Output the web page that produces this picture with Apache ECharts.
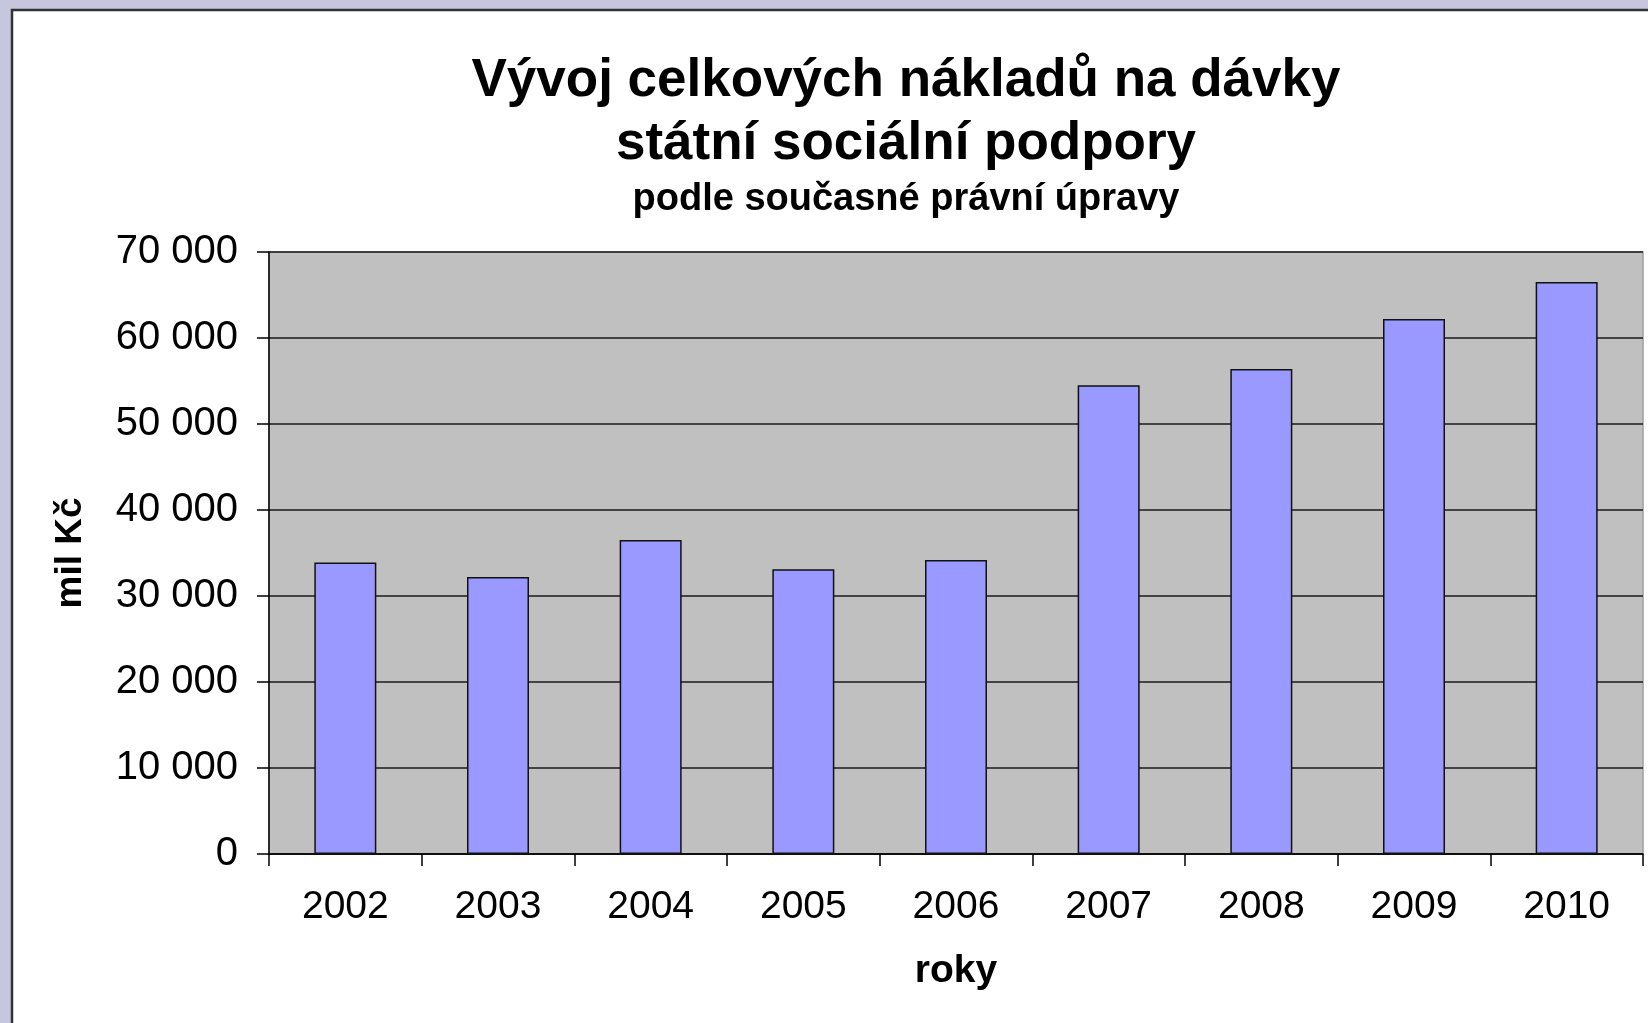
<!DOCTYPE html>
<html>
<head>
<meta charset="utf-8">
<script src="https://cdn.jsdelivr.net/npm/echarts@6/dist/echarts.min.js"></script>
<style>
html,body{margin:0;padding:0;background:#c7c6df;}
#chart{width:1648px;height:1023px;}
</style>
</head>
<body>
<div id="chart"></div>
<script>
var categories = ['2002','2003','2004','2005','2006','2007','2008','2009','2010'];
var values = [33900, 32200, 36500, 33100, 34200, 54500, 56400, 62200, 66500];
var yTicks = [0, 10000, 20000, 30000, 40000, 50000, 60000, 70000];
var titleLines = ['Vývoj celkových nákladů na dávky', 'státní sociální podpory'];
var subtitleText = 'podle současné právní úpravy';
var yName = 'mil Kč';
var xName = 'roky';

var FONT = '"Liberation Sans", Arial, sans-serif';
function fmt(v){ return String(v).replace(/\B(?=(\d{3})+(?!\d))/g, ' '); }

var chart = echarts.init(document.getElementById('chart'));
chart.setOption({
  backgroundColor: '#c7c6df',
  animation: false,
  graphic: [{
    type: 'rect', z: -10,
    shape: {x: 12, y: 10, width: 1700, height: 1100},
    style: {fill: '#ffffff', stroke: '#333333', lineWidth: 2.5}
  }],
  title: [{
    text: titleLines.join('\n'),
    left: 901, top: 45, textAlign: 'center',
    textStyle: {fontFamily: FONT, fontSize: 53, fontWeight: 'bold', color: '#000', lineHeight: 63}
  },{
    text: subtitleText,
    left: 901, top: 176, textAlign: 'center',
    textStyle: {fontFamily: FONT, fontSize: 38, fontWeight: 'bold', color: '#000', lineHeight: 38}
  }],
  grid: {
    left: 269, right: 5, top: 252, bottom: 169,
    containLabel: false, outerBoundsMode: 'none',
    show: true, backgroundColor: '#c0c0c0', borderColor: '#9e9e9e', borderWidth: 1.5
  },
  xAxis: {
    type: 'category', data: categories,
    name: xName, nameLocation: 'middle', nameGap: 98,
    nameTextStyle: {fontFamily: FONT, fontSize: 39, fontWeight: 'bold', color: '#000'},
    axisLine: {lineStyle: {color: '#000', width: 1.5}},
    axisTick: {show: true, length: 12, lineStyle: {color: '#000', width: 1.5}},
    axisLabel: {fontFamily: FONT, fontSize: 39, color: '#000', margin: 34},
    splitLine: {show: false}
  },
  yAxis: {
    type: 'value', min: 0, max: 70000, interval: 10000,
    name: yName, nameLocation: 'middle', nameRotate: 90, nameGap: 180,
    nameTextStyle: {fontFamily: FONT, fontSize: 37, fontWeight: 'bold', color: '#000'},
    axisLine: {show: true, lineStyle: {color: '#000', width: 1.5}},
    axisTick: {show: true, length: 12, lineStyle: {color: '#000', width: 1.5}},
    axisLabel: {fontFamily: FONT, fontSize: 40, color: '#000', margin: 31, padding: [8, 0, 0, 0],
      formatter: function(v){ return yTicks.indexOf(v) >= 0 ? fmt(v) : ''; }},
    splitLine: {show: true, lineStyle: {color: '#1a1a1a', width: 1.5}}
  },
  series: [{
    type: 'bar', data: values, barWidth: 62,
    itemStyle: {color: '#9999ff', borderColor: '#111', borderWidth: 1.5}
  }]
});
</script>
</body>
</html>
